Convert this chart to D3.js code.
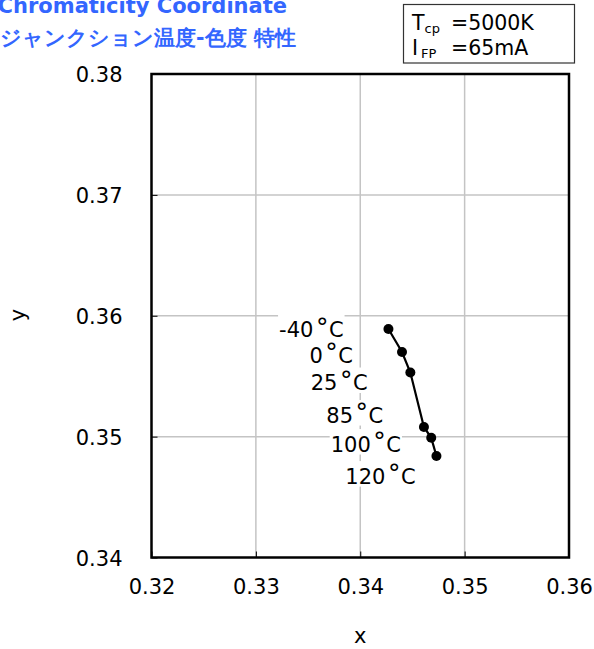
<!DOCTYPE html>
<html>
<head>
<meta charset="utf-8">
<script src="https://cdn.jsdelivr.net/npm/d3@7"></script>
<style>
	body { margin: 0; background: #fff; }
	svg { display: block; }
	text { font-family: "DejaVu Sans", Verdana, sans-serif; }
</style>
</head>
<body>
<svg width="594" height="649"></svg>
<script>
// chromaticity points, one per junction temperature
var temps = ["-40", "0", "25", "85", "100", "120"];
var cx = [0.3427, 0.3440, 0.3448, 0.3461, 0.3468, 0.3473];
var cy = [0.3589, 0.3570, 0.3553, 0.3508, 0.3499, 0.3484];

// where each temperature label sits (right edge / middle, in chart units)
var labelX = [0.3384, 0.3393, 0.3407, 0.3422, 0.3439, 0.3453];
var labelY = [0.35886, 0.35675, 0.35448, 0.35179, 0.34939, 0.34674];

// axes
var xTicks = [0.32, 0.33, 0.34, 0.35, 0.36];
var yTicks = [0.34, 0.35, 0.36, 0.37, 0.38];

var titleLines = ["Chromaticity Coordinate", "ジャンクション温度-色度 特性"];

function buildChart() {
	var svg = d3.select("svg");
	var left = 151.5, right = 569, top = 74, bottom = 557.5;

	var x = d3.scaleLinear().domain([0.32, 0.36]).range([left, right]);
	var y = d3.scaleLinear().domain([0.34, 0.38]).range([bottom, top]);

	// grid
	var grid = svg.append("g").attr("stroke", "#c4c4c4").attr("stroke-width", 1.5);
	grid.selectAll("line.gx").data(xTicks.slice(1, -1)).enter().append("line")
		.attr("x1", function(d) { return x(d); }).attr("x2", function(d) { return x(d); })
		.attr("y1", top).attr("y2", bottom);
	grid.selectAll("line.gy").data(yTicks.slice(1, -1)).enter().append("line")
		.attr("y1", function(d) { return y(d); }).attr("y2", function(d) { return y(d); })
		.attr("x1", left).attr("x2", right);

	// axes, ticks pointing inwards
	var xAxis = svg.append("g").attr("transform", "translate(0," + bottom + ")")
		.call(d3.axisBottom(x).tickValues(xTicks).tickSizeInner(-6).tickSizeOuter(0).tickPadding(22).tickFormat(d3.format(".2f")));
	var yAxis = svg.append("g").attr("transform", "translate(" + left + ",0)")
		.call(d3.axisLeft(y).tickValues(yTicks).tickSizeInner(-6).tickSizeOuter(0).tickPadding(29).tickFormat(d3.format(".2f")));
	[xAxis, yAxis].forEach(function(a) {
		a.select(".domain").remove();
		a.selectAll(".tick line").attr("stroke", "#000").attr("stroke-width", 1);
		a.selectAll(".tick text").attr("font-family", "DejaVu Sans").attr("font-size", 21).attr("fill", "#000");
	});
	yAxis.selectAll(".tick text").attr("dy", "0.36em");

	// temperature labels with white boxes
	var lab = svg.append("g").selectAll("g").data(temps).enter().append("g");
	var txt = lab.append("text")
		.attr("x", function(d, i) { return x(labelX[i]); })
		.attr("y", function(d, i) { return y(labelY[i]); })
		.attr("dy", "0.36em")
		.attr("text-anchor", "end")
		.attr("font-size", 21);
	txt.append("tspan").text(function(d) { return d; });
	// big raised degree ring, like the original
	txt.append("tspan").attr("dx", 2.5).attr("dy", -1.5).attr("font-size", 25).text("°");
	txt.append("tspan").attr("dx", 0.5).attr("dy", 1.5).text("C");
	lab.each(function() {
		var g = d3.select(this), b = g.select("text").node().getBBox();
		g.insert("rect", "text").attr("x", b.x - 1).attr("y", b.y + 2).attr("width", b.width + 2).attr("height", b.height - 4)
			.attr("fill", "#fff");
	});

	// the curve
	var pts = cx.map(function(v, i) { return [v, cy[i]]; });
	svg.append("path").datum(pts)
		.attr("fill", "none").attr("stroke", "#000").attr("stroke-width", 2.2)
		.attr("d", d3.line().x(function(d) { return x(d[0]); }).y(function(d) { return y(d[1]); }));
	svg.append("g").selectAll("circle").data(pts).enter().append("circle")
		.attr("r", 5)
		.attr("cx", function(d) { return x(d[0]); })
		.attr("cy", function(d) { return y(d[1]); })
		.attr("fill", "#000");

	// frame
	svg.append("rect").attr("x", left).attr("y", top).attr("width", right - left).attr("height", bottom - top)
		.attr("fill", "none").attr("stroke", "#000").attr("stroke-width", 2.5);

	// axis titles
	svg.append("text").attr("x", (left + right) / 2).attr("y", 643).attr("text-anchor", "middle")
		.attr("font-size", 21).text("x");
	svg.append("text").attr("transform", "translate(24.5,315) rotate(-90)").attr("text-anchor", "middle")
		.attr("font-size", 21).text("y");

	// title
	svg.append("text").attr("x", 287).attr("y", 12.5).attr("text-anchor", "end")
		.attr("font-size", 21).attr("font-weight", "bold").attr("fill", "#3366ff").text(titleLines[0]);
	svg.append("text").attr("x", 0).attr("y", 45)
		.attr("font-family", "Noto Sans CJK JP").attr("font-size", 20.5).attr("font-weight", "bold")
		.attr("fill", "#3366ff").text(titleLines[1]);

	// conditions box
	svg.append("rect").attr("x", 403.5).attr("y", 4.5).attr("width", 171).attr("height", 58.5)
		.attr("fill", "#fff").attr("stroke", "#333").attr("stroke-width", 1.2);
	var c1 = svg.append("text").attr("x", 412).attr("y", 29.5).attr("font-size", 20.5);
	c1.append("tspan").text("T");
	c1.append("tspan").attr("font-size", 13).attr("dy", 3).text("cp");
	c1.append("tspan").attr("x", 451).attr("dy", -3).text("=5000K");
	var c2 = svg.append("text").attr("x", 412).attr("y", 55).attr("font-size", 20.5);
	c2.append("tspan").text("I");
	c2.append("tspan").attr("font-size", 13).attr("dy", 3).attr("dx", 3).text("FP");
	c2.append("tspan").attr("x", 451).attr("dy", -3).text("=65mA");
}

buildChart();
</script>
</body>
</html>
